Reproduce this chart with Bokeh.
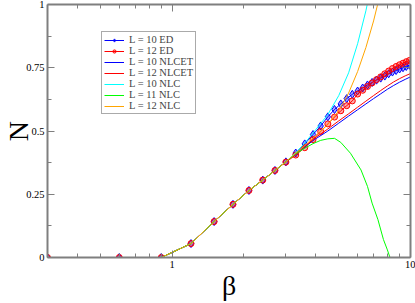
from bokeh.plotting import figure
from bokeh.models import (Range1d, FixedTicker, LogAxis, LinearAxis, Legend,
                          LegendItem)
from bokeh.embed import file_html
from bokeh.resources import INLINE

# ---------------- data ----------------
beta_ed = [0.3, 0.6, 0.9, 1.2, 1.5, 1.8, 2.1, 2.4, 2.7, 3.0, 3.3, 3.6, 3.9,
           4.2, 4.5, 4.8, 5.1, 5.4, 5.7, 6.0, 6.3, 6.6, 6.9, 7.2, 7.5, 7.8,
           8.1, 8.4, 8.7, 9.0, 9.3, 9.6, 9.9]
ed_l10 = [0.0, 0.0, 0.0, 0.055, 0.142, 0.21, 0.265, 0.306, 0.344, 0.378,
          0.413, 0.449, 0.486, 0.52, 0.556, 0.585, 0.607, 0.628, 0.645,
          0.658, 0.67, 0.682, 0.692, 0.701, 0.709, 0.717, 0.726, 0.733,
          0.739, 0.745, 0.75, 0.755, 0.76]
ed_l12 = [0.0, 0.0, 0.0, 0.055, 0.142, 0.21, 0.265, 0.306, 0.344, 0.377,
          0.405, 0.434, 0.466, 0.498, 0.528, 0.555, 0.58, 0.60, 0.619,
          0.646, 0.661, 0.676, 0.69, 0.703, 0.714, 0.726, 0.737, 0.747,
          0.755, 0.762, 0.768, 0.774, 0.779]

beta_nlcet = [0.3, 0.6, 0.9, 1.2, 1.5, 1.8, 2.1, 2.4, 2.7, 3.0, 3.3, 3.6,
              4.0, 4.5, 5.0, 5.5, 6.0, 6.5, 7.0, 7.5, 8.0, 8.5, 9.0, 9.5, 10.0]
nlcet_l10 = [0.0, 0.0, 0.0, 0.055, 0.142, 0.21, 0.265, 0.306, 0.344, 0.378,
             0.41, 0.438, 0.469, 0.50, 0.531, 0.559, 0.584, 0.607, 0.628,
             0.647, 0.665, 0.68, 0.693, 0.704, 0.714]
nlcet_l12 = [0.0, 0.0, 0.0, 0.055, 0.142, 0.21, 0.265, 0.306, 0.344, 0.378,
             0.41, 0.44, 0.474, 0.508, 0.54, 0.568, 0.594, 0.618, 0.64,
             0.66, 0.678, 0.694, 0.707, 0.718, 0.727]

beta_nlc10 = [0.3, 0.6, 0.9, 1.2, 1.5, 1.8, 2.1, 2.4, 2.7, 3.0, 3.3, 3.6,
              4.0, 4.5, 5.0, 5.5, 6.0, 6.5, 7.0]
nlc_l10 = [0.0, 0.0, 0.0, 0.055, 0.142, 0.21, 0.265, 0.306, 0.344, 0.378,
           0.415, 0.452, 0.505, 0.565, 0.64, 0.73, 0.845, 0.975, 1.12]

beta_nlc11 = [0.3, 0.6, 0.9, 1.2, 1.5, 1.8, 2.1, 2.4, 2.7, 3.0, 3.3, 3.6,
              3.9, 4.2, 4.5, 4.8, 5.1, 5.6, 6.2, 6.6, 6.9, 7.3, 7.7, 8.0,
              8.2, 8.4]
nlc_l11 = [0.0, 0.0, 0.0, 0.055, 0.142, 0.21, 0.265, 0.306, 0.344, 0.378,
           0.41, 0.432, 0.45, 0.463, 0.469, 0.471, 0.455, 0.412, 0.346,
           0.281, 0.215, 0.15, 0.071, 0.03, 0.0, -0.04]

beta_nlc12 = [0.3, 0.6, 0.9, 1.2, 1.5, 1.8, 2.1, 2.4, 2.7, 3.0, 3.3, 3.6,
              4.0, 4.5, 5.0, 5.5, 6.0, 6.5, 7.0, 7.5]
nlc_l12 = [0.0, 0.0, 0.0, 0.055, 0.142, 0.21, 0.265, 0.306, 0.344, 0.378,
           0.412, 0.442, 0.482, 0.525, 0.58, 0.65, 0.735, 0.83, 0.935, 1.05]

x_major = [1, 10]
x_minor = [0.4, 0.5, 0.6, 0.7, 0.8, 0.9, 2, 3, 4, 5, 6, 7, 8, 9]
y_major = [0, 0.25, 0.5, 0.75, 1]
y_minor = [0.125, 0.375, 0.625, 0.875]
y_labels = ["0", "0.25", "0.5", "0.75", "1"]
x_labels = ["1", "10"]

legend_labels = ["L = 10 ED", "L = 12 ED", "L = 10 NLCET", "L = 12 NLCET",
                 "L = 10 NLC", "L = 11 NLC", "L = 12 NLC"]

# ---------------- figure ----------------
SERIF = "Liberation Serif"
GRAY = "#7f7f7f"

p = figure(width=415, height=303, x_axis_type="log",
           x_range=Range1d(0.3, 10), y_range=Range1d(0, 1),
           output_backend="svg", toolbar_location=None,
           min_border_left=46, min_border_right=5, min_border_top=4,
           min_border_bottom=45)
p.xgrid.visible = False
p.ygrid.visible = False
p.outline_line_color = None
p.background_fill_color = "white"
p.border_fill_color = "white"


def style(ax, labels=True):
    ax.axis_line_color = GRAY
    ax.axis_line_width = 2
    ax.major_tick_line_color = GRAY
    ax.minor_tick_line_color = GRAY
    ax.major_tick_in = 7
    ax.major_tick_out = 0
    ax.minor_tick_in = 4
    ax.minor_tick_out = 0
    ax.major_label_text_font = SERIF
    ax.major_label_text_color = "black"
    ax.major_label_text_font_size = "10.5px"
    ax.major_label_standoff = 3
    ax.axis_label_text_font = SERIF
    ax.axis_label_text_font_style = "normal"
    ax.axis_label_text_color = "black"
    if not labels:
        ax.major_label_text_alpha = 0
        ax.major_label_text_font_size = "1px"
        ax.major_label_standoff = 0


xa = p.xaxis[0]
xa.ticker = FixedTicker(ticks=x_major, minor_ticks=x_minor)
xa.major_label_overrides = {x_major[i]: x_labels[i] for i in range(len(x_major))}
style(xa)
xa.axis_label = "β"
xa.axis_label_text_font_size = "28px"
xa.axis_label_standoff = -1

ya = p.yaxis[0]
ya.ticker = FixedTicker(ticks=y_major, minor_ticks=y_minor)
ya.major_label_overrides = {y_major[i]: y_labels[i] for i in range(len(y_major))}
style(ya)
ya.axis_label = "N"
ya.axis_label_text_font_size = "28px"
ya.axis_label_standoff = -11

top = LogAxis(ticker=FixedTicker(ticks=x_major, minor_ticks=x_minor))
style(top, labels=False)
p.add_layout(top, "above")
right = LinearAxis(ticker=FixedTicker(ticks=y_major, minor_ticks=y_minor))
style(right, labels=False)
p.add_layout(right, "right")

# ---------------- series ----------------
r_ed10_l = p.line(beta_ed, ed_l10, line_color="#0000ff", line_width=1)
r_ed10_m = p.scatter(beta_ed, ed_l10, marker="diamond", size=8,
                     line_color="#0000ff", fill_color="#0000ff",
                     fill_alpha=0.35, line_width=1)
r_ed12_l = p.line(beta_ed, ed_l12, line_color="#ff0000", line_width=1)
r_ed12_m = p.scatter(beta_ed, ed_l12, marker="circle", size=6,
                     line_color="#ff0000", fill_color="#ff0000",
                     fill_alpha=0.35, line_width=1)
r_et10 = p.line(beta_nlcet, nlcet_l10, line_color="#0000ff", line_width=1)
r_et12 = p.line(beta_nlcet, nlcet_l12, line_color="#ff0000", line_width=1)
r_n10 = p.line(beta_nlc10, nlc_l10, line_color="#00ffff", line_width=1)
r_n11 = p.line(beta_nlc11, nlc_l11, line_color="#00ff00", line_width=1)
r_n12 = p.line(beta_nlc12, nlc_l12, line_color="#ffa500", line_width=1)

rends = [[r_ed10_l, r_ed10_m], [r_ed12_l, r_ed12_m], [r_et10], [r_et12],
         [r_n10], [r_n11], [r_n12]]
legend = Legend(items=[LegendItem(label=legend_labels[i], renderers=rends[i])
                       for i in range(len(legend_labels))],
                location=(54, 143))
legend.label_text_font = SERIF
legend.label_text_font_size = "10.5px"
legend.glyph_width = 20
legend.glyph_height = 8
legend.label_height = 8
legend.spacing = -2
legend.padding = 2
legend.margin = 0
legend.label_standoff = 5
legend.border_line_color = "#555555"
legend.border_line_width = 1
legend.background_fill_alpha = 1.0
p.add_layout(legend)

open("out.html", "w").write(file_html(p, INLINE))
